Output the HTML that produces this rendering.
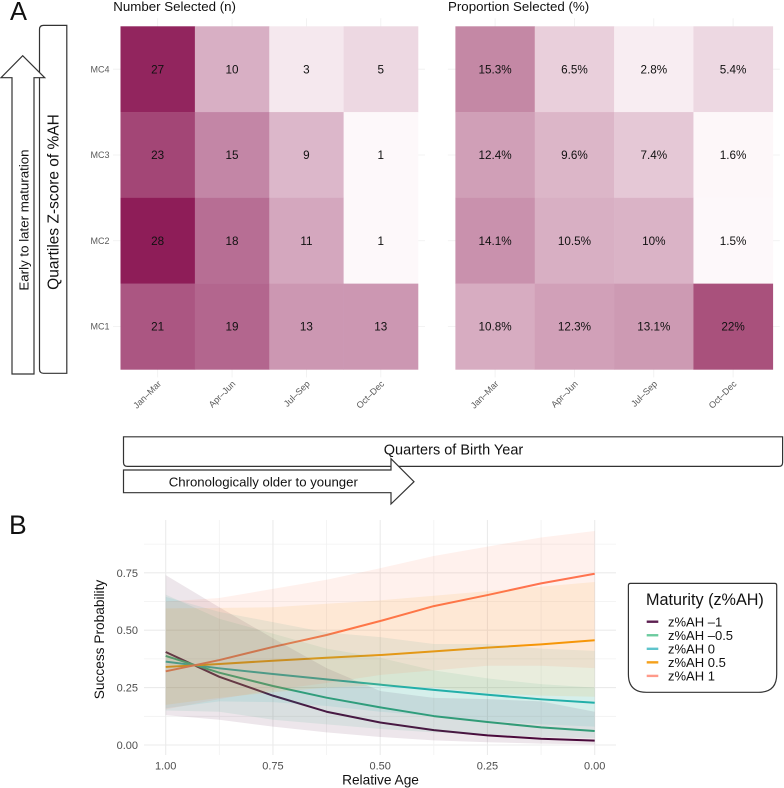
<!DOCTYPE html>
<html lang="en">
<head>
<meta charset="utf-8">
<title>Selection heatmaps and success probability</title>
<style>
  html, body { margin: 0; padding: 0; background: #fff; }
  body { width: 784px; height: 788px; overflow: hidden; }
  svg { display: block; font-family: "Liberation Sans", sans-serif; }
</style>
</head>
<body>
<svg id="chart" xmlns="http://www.w3.org/2000/svg" width="784" height="788" viewBox="0 0 784 788">
  <text x="10" y="20" font-size="25.5" fill="#111">A</text>
  <text x="9" y="534" font-size="26.5" fill="#111">B</text>

  <path d="M66.8 25.4 H43.5 Q39.5 25.4 39.5 29.4 V369.3 Q39.5 373.3 43.5 373.3 H66.8 Z" fill="#fff" stroke="#333" stroke-width="1.2"/>
  <text transform="translate(58.5 202) rotate(-90)" text-anchor="middle" font-size="15.5" fill="#111">Quartiles Z-score of %AH</text>
  <path d="M12 374 V77.7 H1 L22.7 55.7 L44.7 77.7 H34 V374 Z" fill="#fff" stroke="#333" stroke-width="1.2"/>
  <text transform="translate(28.5 220) rotate(-90)" text-anchor="middle" font-size="13.3" fill="#111">Early to later maturation</text>

  <path d="M123.5 436.8 H782.6 V462.6 Q782.6 466.4 778.8 466.4 H127.5 Q123.5 466.4 123.5 462.4 Z" fill="#fff" stroke="#333" stroke-width="1.2"/>
  <text x="453.5" y="454.3" text-anchor="middle" font-size="14.5" fill="#111">Quarters of Birth Year</text>
  <path d="M123.5 470 H391 V458.7 L414 481.7 L391 504 V492.7 H123.5 Z" fill="#fff" stroke="#333" stroke-width="1.2"/>
  <text x="263.3" y="486.5" text-anchor="middle" font-size="13.2" fill="#111">Chronologically older to younger</text>

  <text x="113.3" y="11" font-size="13.3" fill="#111">Number Selected (n)</text>
  <text x="448" y="11" font-size="13.3" fill="#111">Proportion Selected (%)</text>

  <g id="heatmaps"></g>
  <g id="lineplot"></g>

  <text transform="translate(104 639.5) rotate(-90)" text-anchor="middle" font-size="13.7" fill="#111">Success Probability</text>
  <text x="380.5" y="784.5" text-anchor="middle" font-size="13.7" fill="#111">Relative Age</text>

  <g>
    <path d="M628.4 585.5 Q628.4 583.4 630.5 583.4 H774.6 Q776.7 583.4 776.7 585.5 V674.3 Q776.7 692.3 758.7 692.3 H646.4 Q628.4 692.3 628.4 674.3 Z" fill="#fff" stroke="#333" stroke-width="1.2"/>
    <text x="646" y="605" font-size="16.2" fill="#111">Maturity (z%AH)</text>
    <g id="legend-entries"></g>
  </g>
</svg>

<script>
/* Heatmap data */
const quarters = ["Jan–Mar", "Apr–Jun", "Jul–Sep", "Oct–Dec"];
const maturityRows = ["MC4", "MC3", "MC2", "MC1"];
const countsMC4 = [27, 10, 3, 5];
const countsMC3 = [23, 15, 9, 1];
const countsMC2 = [28, 18, 11, 1];
const countsMC1 = [21, 19, 13, 13];
const percentMC4 = [15.3, 6.5, 2.8, 5.4];
const percentMC3 = [12.4, 9.6, 7.4, 1.6];
const percentMC2 = [14.1, 10.5, 10, 1.5];
const percentMC1 = [10.8, 12.3, 13.1, 22];

/* Line plot data: relative age runs 1.00 to 0.00 */
const relativeAge = [1, 0.875, 0.75, 0.625, 0.5, 0.375, 0.25, 0.125, 0];
const yTickValues = [0, 0.25, 0.5, 0.75];
const xTickValues = [1, 0.75, 0.5, 0.25, 0];
const seriesNames = ["z%AH –1", "z%AH –0.5", "z%AH 0", "z%AH 0.5", "z%AH 1"];

const meanMinus1 = [0.405, 0.297, 0.215, 0.145, 0.098, 0.065, 0.042, 0.027, 0.019];
const lowMinus1 = [0.13, 0.11, 0.08, 0.055, 0.035, 0.02, 0.012, 0.006, 0.002];
const highMinus1 = [0.74, 0.6, 0.465, 0.335, 0.235, 0.205, 0.2, 0.19, 0.145];

const meanMinus05 = [0.388, 0.315, 0.257, 0.206, 0.164, 0.126, 0.1, 0.077, 0.061];
const lowMinus05 = [0.15, 0.145, 0.11, 0.09, 0.07, 0.055, 0.045, 0.035, 0.03];
const highMinus05 = [0.655, 0.55, 0.485, 0.42, 0.38, 0.325, 0.29, 0.265, 0.25];

const meanZero = [0.363, 0.334, 0.309, 0.286, 0.263, 0.24, 0.219, 0.199, 0.184];
const lowZero = [0.16, 0.19, 0.187, 0.17, 0.145, 0.125, 0.105, 0.09, 0.08];
const highZero = [0.645, 0.58, 0.535, 0.49, 0.47, 0.44, 0.44, 0.42, 0.41];

const meanPlus05 = [0.34, 0.353, 0.367, 0.38, 0.392, 0.408, 0.424, 0.438, 0.456];
const lowPlus05 = [0.175, 0.205, 0.23, 0.25, 0.26, 0.25, 0.225, 0.215, 0.21];
const highPlus05 = [0.595, 0.597, 0.6, 0.615, 0.63, 0.65, 0.67, 0.69, 0.71];

const meanPlus1 = [0.321, 0.37, 0.427, 0.479, 0.54, 0.605, 0.653, 0.704, 0.746];
const lowPlus1 = [0.155, 0.2, 0.24, 0.27, 0.305, 0.325, 0.345, 0.345, 0.335];
const highPlus1 = [0.625, 0.64, 0.68, 0.72, 0.77, 0.823, 0.864, 0.904, 0.932];

const NS = "http://www.w3.org/2000/svg";

function make(parent, tag, attrs, text) {
  const el = document.createElementNS(NS, tag);
  for (const k in attrs) el.setAttribute(k, attrs[k]);
  if (text !== undefined) el.textContent = text;
  parent.appendChild(el);
  return el;
}

function hexToRgb(h) {
  return [parseInt(h.slice(1, 3), 16), parseInt(h.slice(3, 5), 16), parseInt(h.slice(5, 7), 16)];
}

function rampColor(value, min, max, lowHex, highHex) {
  const t = Math.max(0, Math.min(1, (value - min) / (max - min)));
  const a = hexToRgb(lowHex), b = hexToRgb(highHex);
  return "rgb(" + a.map((c, i) => Math.round(c + (b[i] - c) * t)).join(",") + ")";
}

function drawHeatmap(group, cfg) {
  const tileW = (cfg.right - cfg.left) / quarters.length;
  const tileH = (cfg.bottom - cfg.top) / maturityRows.length;
  const colX = i => cfg.left + tileW * (i + 0.5);
  const rowY = j => cfg.top + tileH * (j + 0.5);

  quarters.forEach((q, i) => {
    const grid = make(group, "line", { x1: colX(i), x2: colX(i), y1: cfg.top - 8, y2: cfg.bottom + 8, stroke: "#efefef", "stroke-width": 0.8 });
    
    
  });
  maturityRows.forEach((r, j) => {
    const grid = make(group, "line", { x1: cfg.left - 7.5, x2: cfg.right + 7, y1: rowY(j), y2: rowY(j), stroke: "#efefef", "stroke-width": 0.8 });
    
    
  });

  cfg.rows.forEach((row, j) => {
    row.forEach((value, i) => {
      const tile = make(group, "rect", {
        x: cfg.left + tileW * i, y: cfg.top + tileH * j,
        width: tileW + 0.3, height: tileH + 0.3,
        fill: rampColor(value, cfg.min, cfg.max, "#fdf8fa", cfg.high)
      });
      
      
    });
  });
  cfg.rows.forEach((row, j) => {
    row.forEach((value, i) => {
      const label = make(group, "text", {
        x: colX(i), y: rowY(j) + 4.2, "text-anchor": "middle", "font-size": 11.7, fill: "#111"
      }, value + cfg.suffix);
      
      
    });
  });

  quarters.forEach((q, i) => {
    const tick = make(group, "text", {
      transform: "translate(" + (colX(i) + 4) + " " + (cfg.bottom + 15) + ") rotate(-45)",
      "text-anchor": "end", "font-size": 9, fill: "#5a5a5a"
    }, q);
    
    
  });

  if (cfg.showRows) {
    maturityRows.forEach((r, j) => {
      const tick = make(group, "text", {
        x: cfg.left - 11, y: rowY(j) + 3.2, "text-anchor": "end", "font-size": 9, fill: "#5a5a5a"
      }, r);
      
      
    });
  }
}

const heatGroup = document.getElementById("heatmaps");
const countRows = [countsMC4, countsMC3, countsMC2, countsMC1];
const percentRows = [percentMC4, percentMC3, percentMC2, percentMC1];
drawHeatmap(heatGroup, {
  rows: countRows, left: 120.5, right: 418, top: 26.3, bottom: 369.4,
  min: 1, max: 28, high: "#8e1d58", suffix: "", showRows: true
});
drawHeatmap(heatGroup, {
  rows: percentRows, left: 455.4, right: 772.8, top: 26.3, bottom: 369.4,
  min: 1.5, max: 22, high: "#a9517c", suffix: "%", showRows: false
});

/* Line plot */
const seriesColors = ["#4a0a3c", "#30ab7e", "#22b0ae", "#f59a00", "#ff7350"];
const legendColors = ["#5c1f50", "#6ccb9f", "#5fc4cc", "#f5a11c", "#ff9a8a"];
const means = [meanMinus1, meanMinus05, meanZero, meanPlus05, meanPlus1];
const lows = [lowMinus1, lowMinus05, lowZero, lowPlus05, lowPlus1];
const highs = [highMinus1, highMinus05, highZero, highPlus05, highPlus1];

const xScale = age => 594.7 - 429 * age;
const yScale = p => 745 - 229.6 * p;

const plot = document.getElementById("lineplot");

yTickValues.forEach(v => {
  const minorValue = v + 0.125;
  const minor = make(plot, "line", { x1: 144, x2: 616, y1: yScale(minorValue), y2: yScale(minorValue), stroke: "#f1f1f1", "stroke-width": 0.8 });
  
  
  const major = make(plot, "line", { x1: 144, x2: 616, y1: yScale(v), y2: yScale(v), stroke: "#ebebeb", "stroke-width": 1.1 });
  
  
  const label = make(plot, "text", { x: 138, y: yScale(v) + 4, "text-anchor": "end", "font-size": 11, fill: "#4d4d4d" }, v.toFixed(2));
  
  
});
relativeAge.forEach((a, i) => {
  const isMajor = i % 2 === 0;
  const grid = make(plot, "line", { x1: xScale(a), x2: xScale(a), y1: 520, y2: 755, stroke: isMajor ? "#ebebeb" : "#f1f1f1", "stroke-width": isMajor ? 1.1 : 0.8 });
  
  
});
xTickValues.forEach(a => {
  const label = make(plot, "text", { x: xScale(a), y: 769.5, "text-anchor": "middle", "font-size": 11, fill: "#4d4d4d" }, a.toFixed(2));
  
  
});

/* The ribbons sit on top of the lines, which mutes the lines where bands overlap. */
means.forEach((m, s) => {
  const pts = m.map((v, i) => xScale(relativeAge[i]) + "," + yScale(v)).join(" ");
  const line = make(plot, "polyline", { points: pts, fill: "none", stroke: seriesColors[s], "stroke-width": 2, "stroke-linejoin": "round" });
  
  
});
means.forEach((m, s) => {
  const upper = highs[s].map((v, i) => xScale(relativeAge[i]) + "," + yScale(v));
  const lower = lows[s].map((v, i) => xScale(relativeAge[i]) + "," + yScale(v)).reverse();
  const band = make(plot, "polygon", { points: upper.concat(lower).join(" "), fill: seriesColors[s], "fill-opacity": 0.1 });
  
  
});

/* Legend */
const legendGroup = document.getElementById("legend-entries");
seriesNames.forEach((name, i) => {
  const cy = 621.7 + i * 13.55;
  const key = make(legendGroup, "line", { x1: 646.7, x2: 658.3, y1: cy, y2: cy, stroke: legendColors[i], "stroke-width": 2.4 });
  
  
  const label = make(legendGroup, "text", { x: 668, y: cy + 4.6, "font-size": 13, fill: "#111" }, name);
  
  
});
</script>
</body>
</html>
